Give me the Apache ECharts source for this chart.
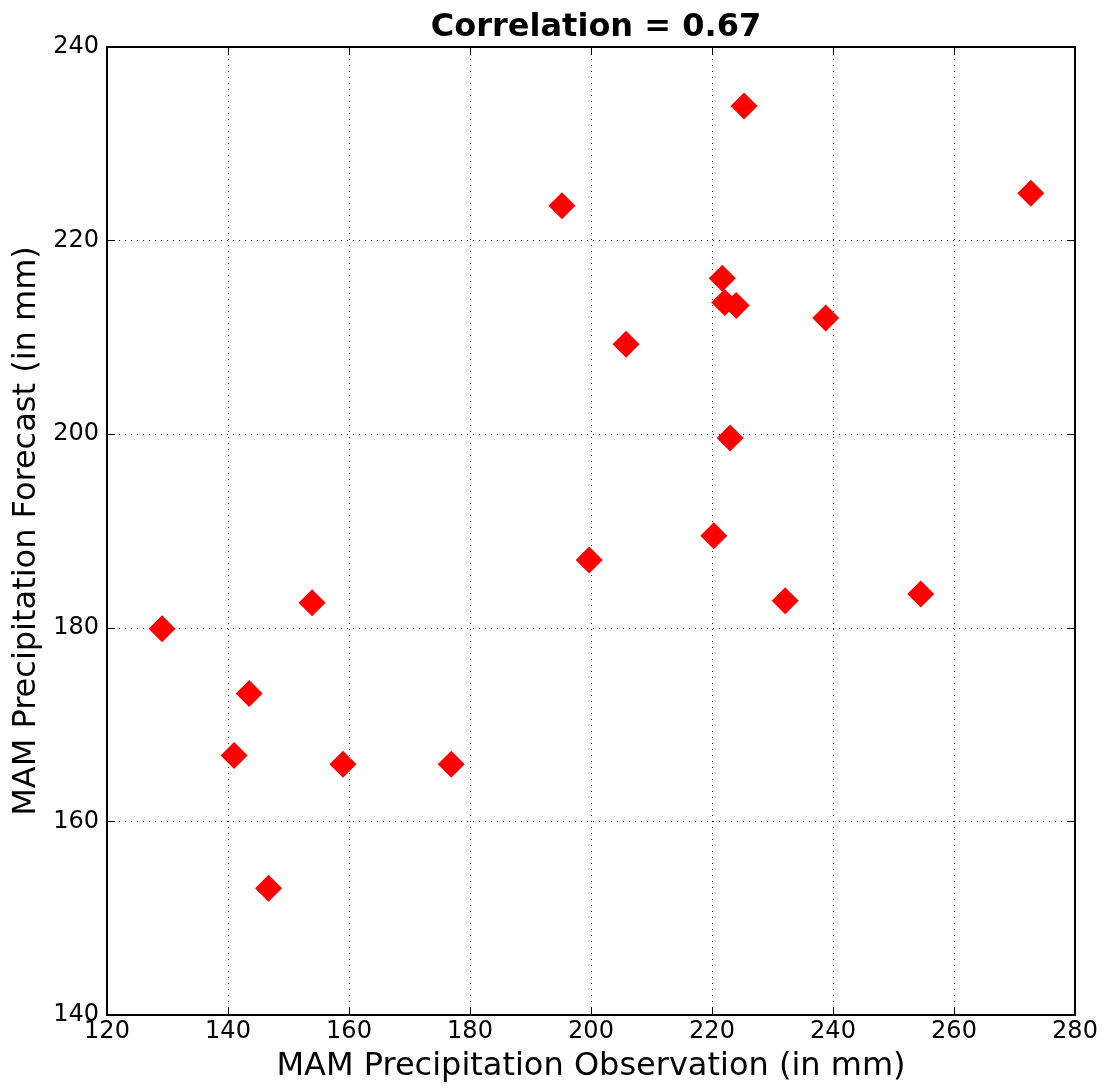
<!DOCTYPE html>
<html>
<head>
<meta charset="utf-8">
<script src="https://cdn.jsdelivr.net/npm/echarts@6/dist/echarts.min.js"></script>
<style>
  html, body { margin: 0; padding: 0; background: #fff; }
  #chart { width: 1104px; height: 1089px; }
</style>
</head>
<body>
<div id="chart"></div>
<script>
// MAM precipitation: observed vs forecast (mm)
const obsValues  = [129.1, 143.5, 141.0, 146.7, 153.9, 159.0, 176.9, 195.2, 199.7, 205.8,
                    220.3, 221.7, 222.1, 224.0, 223.0, 225.3, 232.1, 238.8, 254.5, 272.7];
const fcstValues = [179.9, 173.2, 166.8, 153.1, 182.6, 165.9, 165.9, 223.6, 187.0, 209.3,
                    189.5, 216.1, 213.6, 213.3, 199.6, 233.9, 182.8, 212.0, 183.5, 224.9];
const xTicks = [120, 140, 160, 180, 200, 220, 240, 260, 280];
const yTicks = [140, 160, 180, 200, 220, 240];
const titleText = 'Correlation = 0.67';

const points = obsValues.map((x, i) => [x, fcstValues[i]]);

const FONT = 'DejaVu Sans';
const gridDots = { color: '#222', width: 1, type: [1, 5] };
const GRID = { left: 107, right: 29, top: 47, bottom: 74 };
const plotCenterX = GRID.left + (1104 - GRID.left - GRID.right) / 2;

function axisBase(min, max, step) {
  return {
    type: 'value', min: min, max: max, interval: step,
    axisLine: { show: true, onZero: false, lineStyle: { color: '#000', width: 2 } },
    axisTick: { show: true, inside: true, length: 8, lineStyle: { color: '#000', width: 1 } },
  };
}

const chart = echarts.init(document.getElementById('chart'), null, { renderer: 'canvas' });
chart.setOption({
  backgroundColor: '#fff',
  animation: false,
  title: {
    text: titleText, left: plotCenterX, top: 7, textAlign: 'center',
    textStyle: { fontFamily: FONT, fontWeight: 'bold', fontSize: 32, color: '#000' }
  },
  grid: Object.assign({ containLabel: false }, GRID),
  xAxis: [
    Object.assign(axisBase(xTicks[0], xTicks[xTicks.length - 1], 20), {
      position: 'bottom',
      name: 'MAM Precipitation Observation (in mm)',
      nameLocation: 'middle', nameGap: 36,
      nameTextStyle: { fontFamily: FONT, fontSize: 32, color: '#000' },
      axisLabel: { fontFamily: FONT, fontSize: 24, color: '#000', margin: 5 },
      splitLine: { show: true, lineStyle: gridDots }
    }),
    Object.assign(axisBase(xTicks[0], xTicks[xTicks.length - 1], 20), {
      position: 'top', axisLabel: { show: false }, splitLine: { show: false }
    })
  ],
  yAxis: [
    Object.assign(axisBase(yTicks[0], yTicks[yTicks.length - 1], 20), {
      position: 'left',
      name: 'MAM Precipitation Forecast (in mm)',
      nameLocation: 'middle', nameGap: 63,
      nameTextStyle: { fontFamily: FONT, fontSize: 32, color: '#000' },
      axisLabel: { fontFamily: FONT, fontSize: 24, color: '#000', margin: 8 },
      splitLine: { show: true, lineStyle: gridDots }
    }),
    Object.assign(axisBase(yTicks[0], yTicks[yTicks.length - 1], 20), {
      position: 'right', axisLabel: { show: false }, splitLine: { show: false }
    })
  ],
  series: [{
    type: 'scatter',
    xAxisIndex: 0, yAxisIndex: 0,
    data: points,
    symbol: 'diamond',
    symbolSize: 27,
    itemStyle: { color: '#ff0000', opacity: 1 }
  }]
});
</script>
</body>
</html>
